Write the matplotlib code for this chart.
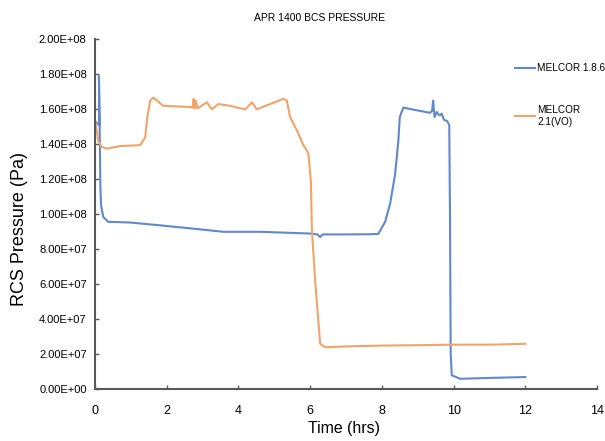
import matplotlib
matplotlib.use('Agg')
import matplotlib.pyplot as plt
from matplotlib.ticker import FuncFormatter

plt.rcParams['font.family'] = ['Liberation Sans', 'DejaVu Sans']

# MELCOR 1.8.6 (blue)
t_186 = [0, 0.12, 0.11, 0.13, 0.15, 0.17, 0.23, 0.37, 0.98, 1.81, 2.74, 3.58, 4.6, 5.3,
         6.0, 6.2, 6.28, 6.35, 7.0, 7.67, 7.9, 8.09, 8.23, 8.37, 8.46, 8.5, 8.6, 8.73,
         9.34, 9.40, 9.43, 9.47, 9.53, 9.58, 9.62, 9.67, 9.73, 9.82, 9.88, 9.90, 9.92,
         9.95, 10.19, 11.0, 12.0]
p_186 = [1.53, 1.51, 1.79, 1.50, 1.15, 1.05, 0.985, 0.957, 0.953, 0.937, 0.918, 0.90, 0.90, 0.895,
         0.89, 0.885, 0.87, 0.885, 0.885, 0.886, 0.888, 0.956, 1.06, 1.23, 1.42, 1.556, 1.61, 1.604,
         1.58, 1.59, 1.65, 1.556, 1.585, 1.57, 1.566, 1.575, 1.54, 1.533, 1.51, 1.0, 0.2,
         0.08, 0.06, 0.065, 0.07]

# MELCOR 2.1(VO) (orange)
t_21 = [0, 0.03, 0.09, 0.19, 0.33, 0.7, 1.26, 1.40, 1.46, 1.54, 1.63, 1.9, 2.65, 2.72, 2.75,
        2.78, 2.81, 2.86, 3.12, 3.26, 3.44, 3.77, 3.96, 4.19, 4.38, 4.51, 5.26, 5.35, 5.44,
        5.63, 5.80, 5.95, 6.02, 6.05, 6.14, 6.24, 6.28, 6.42, 7.0, 8.0, 9.0, 10.0, 11.0, 12.0]
p_21 = [1.54, 1.50, 1.42, 1.385, 1.375, 1.39, 1.395, 1.44, 1.556, 1.65, 1.667, 1.62, 1.613, 1.61, 1.66,
        1.605, 1.65, 1.605, 1.64, 1.60, 1.63, 1.62, 1.61, 1.60, 1.64, 1.60, 1.66, 1.65, 1.556,
        1.48, 1.40, 1.35, 1.19, 0.91, 0.62, 0.36, 0.26, 0.24, 0.245, 0.25, 0.252, 0.255, 0.255, 0.26]

x_ticks = [0, 2, 4, 6, 8, 10, 12, 14]
y_ticks = [i * 2e7 for i in range(11)]

fig = plt.figure(figsize=(6.05, 4.41), dpi=100)
ax = fig.add_axes([95 / 605, 51.7 / 441, 502 / 605, 350 / 441])

ax.plot(t_186, [p * 1e8 for p in p_186], color='#6088cc', lw=1.5, label='MELCOR 1.8.6')
ax.plot(t_21, [p * 1e8 for p in p_21], color='#f2a468', lw=1.5, label='MELCOR\n2.1(VO)')

ax.set_xlim(0, 14)
ax.set_ylim(0, 2e8)
ax.set_xticks(x_ticks)
ax.set_yticks(y_ticks)
ax.yaxis.set_major_formatter(FuncFormatter(lambda v, pos: '{:.2E}'.format(v)))

for s in ['top', 'right']:
    ax.spines[s].set_visible(False)
for s in ['left', 'bottom']:
    ax.spines[s].set_color('#595959')
    ax.spines[s].set_linewidth(1.5)

ax.tick_params(axis='y', direction='in', length=3, width=1, color='#595959', labelsize=8, pad=6)
ax.tick_params(axis='x', direction='in', length=3, width=1, color='#595959', labelsize=9, pad=11)

ax.set_xlabel('Time (hrs)', fontsize=11.4, va='center')
ax.xaxis.set_label_coords((344 - 95) / 502, (389.3 - 428) / 350)
ax.set_ylabel('RCS Pressure (Pa)', fontsize=13, va='center')
ax.yaxis.set_label_coords((20 - 95) / 502, (389.3 - 229) / 350)
fig.text(319 / 605, 1 - 18 / 441, 'APR 1400 BCS PRESSURE', ha='center', va='center', fontsize=7.5)

ax.legend(loc='upper left', bbox_to_anchor=(515 / 605, 1 - 63 / 441), bbox_transform=fig.transFigure,
          frameon=False, fontsize=7.2, handlelength=2.0, handletextpad=0.2, labelspacing=3.2,
          borderaxespad=0, borderpad=0)

fig.savefig('out.png', dpi=100)
